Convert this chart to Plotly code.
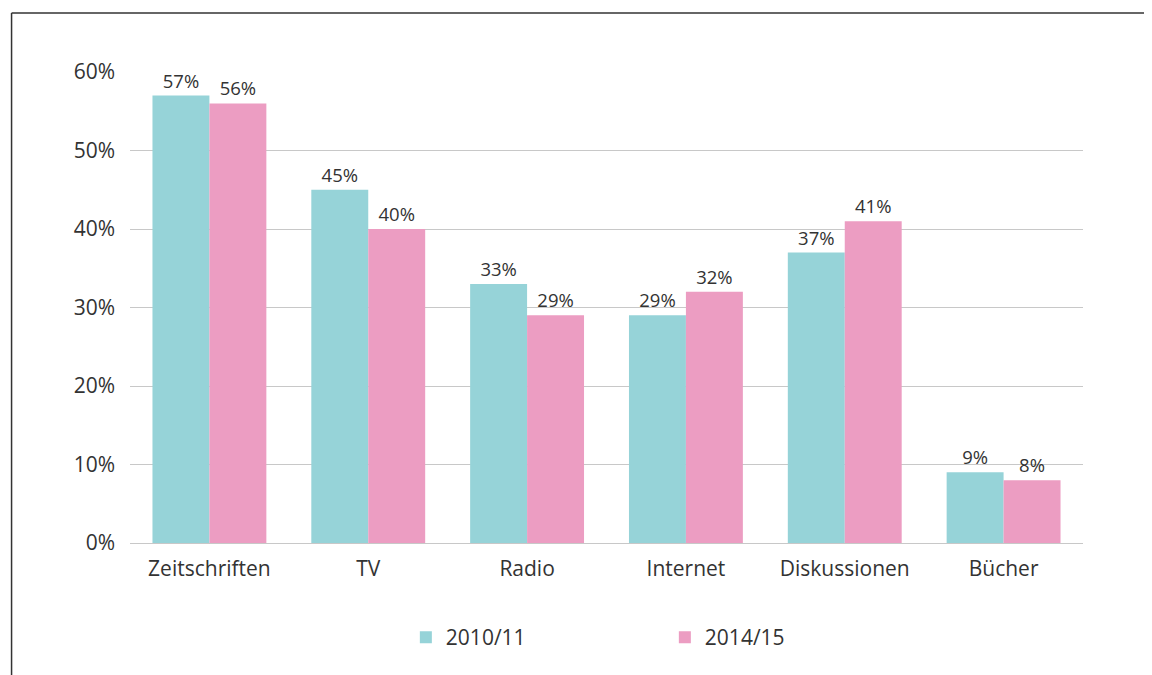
import plotly.graph_objects as go

categories = ["Zeitschriften", "TV", "Radio", "Internet", "Diskussionen", "Bücher"]
series_names = ["2010/11", "2014/15"]
values_2010 = [57, 45, 33, 29, 37, 9]
values_2014 = [56, 40, 29, 32, 41, 8]
tick_vals = [0, 10, 20, 30, 40, 50, 60]
tick_text = ["0%", "10%", "20%", "30%", "40%", "50%", "60%"]

colors = ["#96D3D8", "#EC9DC2"]
font_family = "Open Sans, Lato, sans-serif"
text_color = "#333333"

# page is rendered with an 8px body offset
OFF = 8
W, H = 1152, 675
L = 129.5 - OFF
R = W - (1083 - OFF)
T = 72 - OFF
B = H - (543 - OFF)
pw, ph = W - L - R, H - T - B


def px_x(p):
    return (p - OFF - L) / pw


def px_y(p):
    return (H - B - (p - OFF)) / ph


fig = go.Figure()
for name, vals, col in zip(series_names, [values_2010, values_2014], colors):
    fig.add_trace(go.Bar(
        x=categories, y=vals, name=name, showlegend=False,
        marker=dict(color=col, line=dict(width=0)),
        text=[f"{v}%" for v in vals], textposition="outside",
        textfont=dict(size=18.5, color=text_color, family=font_family),
        cliponaxis=False,
    ))
# legend entries with square symbols
for name, col in zip(series_names, colors):
    fig.add_trace(go.Scatter(
        x=[None], y=[None], mode="markers", name=name,
        marker=dict(symbol="square", size=15, color=col),
    ))

fig.update_layout(
    width=W, height=H,
    margin=dict(l=L, r=R, t=T, b=B, pad=0),
    paper_bgcolor="white", plot_bgcolor="white",
    barmode="group", bargap=0.283, bargroupgap=0,
    font=dict(family=font_family, color=text_color, size=21),
    xaxis=dict(showgrid=False, showline=False, ticks="", ticklabelstandoff=11,
               tickfont=dict(size=21, color=text_color)),
    yaxis=dict(range=[0, 60], tickvals=tick_vals, ticktext=tick_text,
               showgrid=True, gridcolor="#c8c8c8", gridwidth=1,
               zeroline=True, zerolinecolor="#c8c8c8", zerolinewidth=1,
               showline=False, ticks="", ticklabelstandoff=14,
               tickfont=dict(size=21, color=text_color)),
    legend=dict(orientation="h", x=px_x(405.5), xanchor="left", y=px_y(637.5), yanchor="middle",
                entrywidth=214, entrywidthmode="pixels",
                font=dict(size=21, color=text_color), itemsizing="constant"),
    showlegend=True,
    shapes=[
        dict(type="line", xref="paper", yref="paper", x0=px_x(11), x1=px_x(1160), y0=px_y(13), y1=px_y(13),
             line=dict(color="#333333", width=1.5)),
        dict(type="line", xref="paper", yref="paper", x0=px_x(11), x1=px_x(11), y0=px_y(13), y1=px_y(690),
             line=dict(color="#333333", width=1.5)),
    ],
)

fig.write_html("out.html")
